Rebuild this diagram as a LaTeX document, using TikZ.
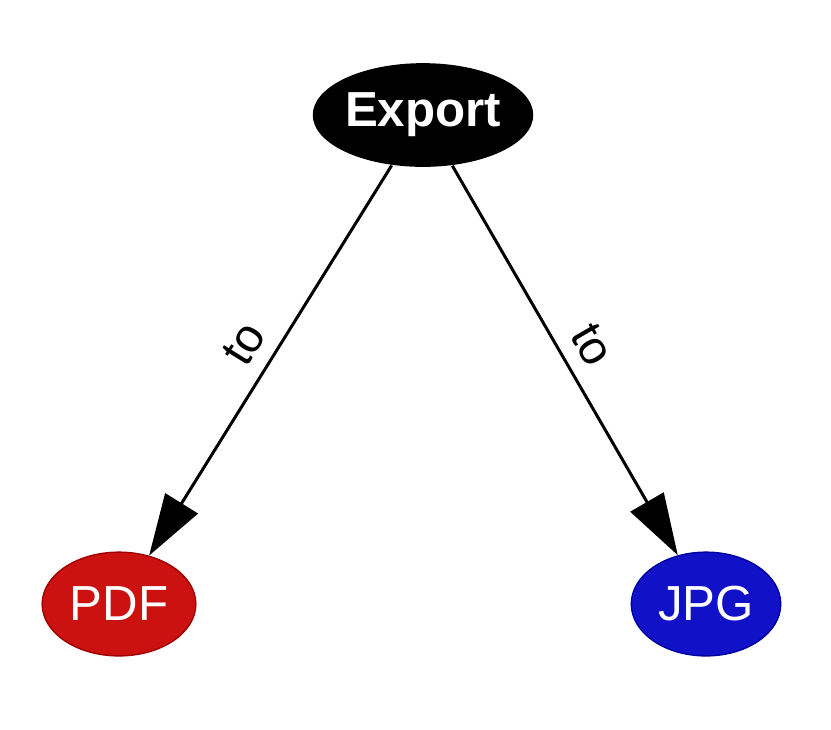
\documentclass[tikz,border=0pt]{standalone}
\usepackage{fontspec}
\setmainfont{Liberation Sans}
\usetikzlibrary{arrows.meta, shapes.geometric}

\begin{document}
\begin{tikzpicture}[x=0.01cm, y=-0.01cm]
    % Define colours
    \definecolor{pdfColour}{HTML}{CC1111}
    \definecolor{pdfBorder}{HTML}{A00000}
    \definecolor{jpgColour}{HTML}{1111C8}
    \definecolor{jpgBorder}{HTML}{0000A0}

    % Define styles
    \tikzset{
      formatNode/.style={ellipse, inner sep=0pt, minimum height=29.5pt,
        text=white, font=\fontsize{14}{16}\selectfont},
      exportEdge/.style={line width=0.85pt, -{Triangle[length=17.5pt, width=10.8pt]}},
      edgeLabel/.style={sloped, above, font=\fontsize{13.5}{15}\selectfont, inner sep=4pt}
    }

  % Fix the canvas
  \useasboundingbox (0,0) rectangle (831,729);

  % Draw the nodes
  \node[formatNode, fill=black, minimum width=60.7pt, font=\fontsize{14}{16}\selectfont\bfseries] (export) at (423,115) {Export};
  \node[formatNode, fill=pdfColour, draw=pdfBorder, minimum width=43.7pt] (pdf) at (119,604) {PDF};
  \node[formatNode, fill=jpgColour, draw=jpgBorder, minimum width=42.5pt] (jpg) at (706,604) {JPG};

  % Draw the edges
  \draw[exportEdge] (export) -- node[edgeLabel, midway] {to} (pdf);
  \draw[exportEdge] (export) -- node[edgeLabel, midway] {to} (jpg);

\end{tikzpicture}
\end{document}
